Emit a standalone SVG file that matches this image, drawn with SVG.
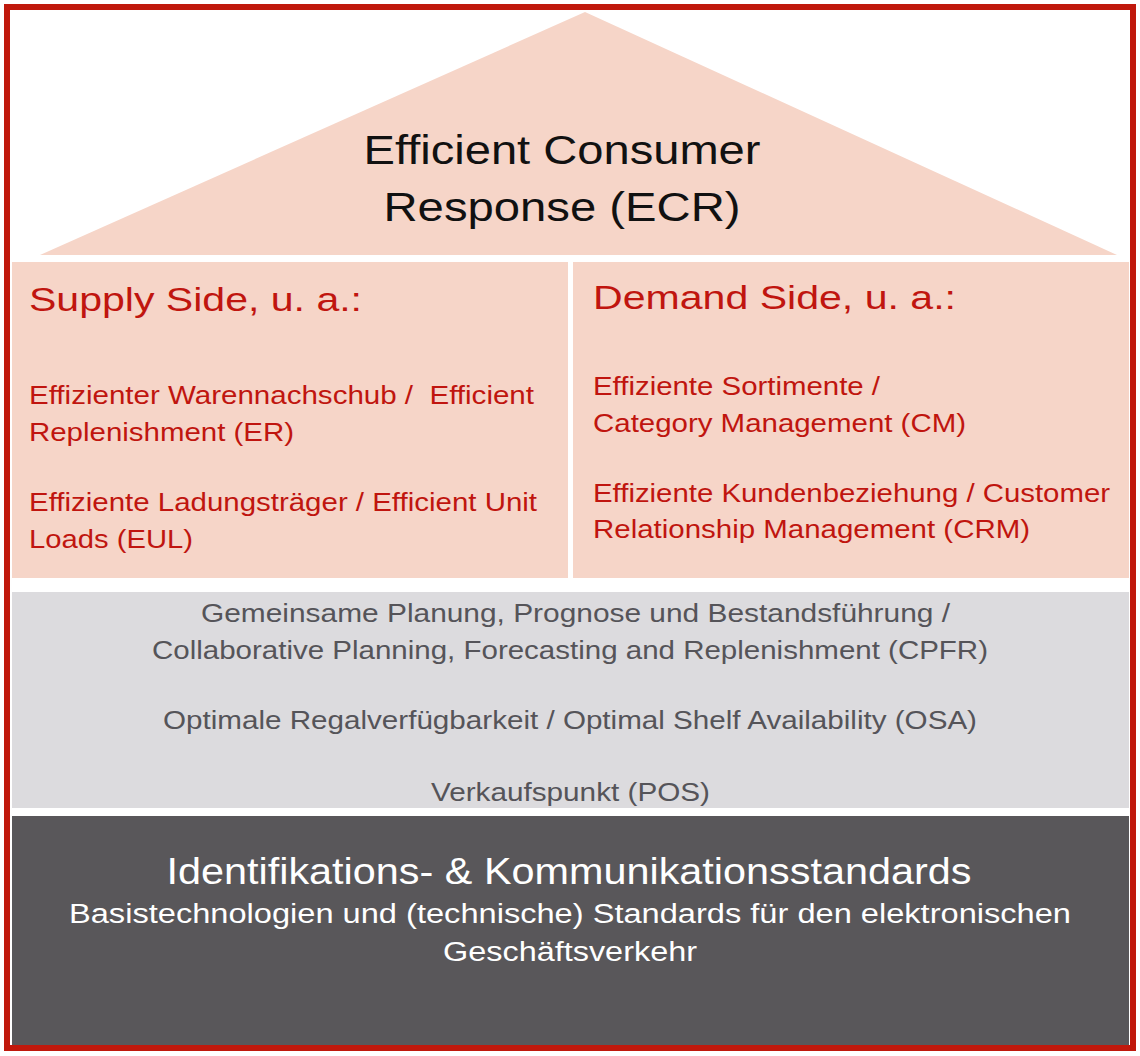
<svg xmlns="http://www.w3.org/2000/svg" width="1140" height="1056" viewBox="0 0 1140 1056">
<style>
text{font-family:"Liberation Sans",Arial,sans-serif}
.pink{fill:#f6d5c8}
.red{fill:#c0150f}
.grey{fill:#555459}
.wht{fill:#ffffff}
.mid{text-anchor:middle}
</style>
<rect x="0" y="0" width="1140" height="1056" fill="#ffffff"/>
<g id="roof">
<polygon class="pink" points="40,255 585,12 1117,255"/>
<text x="562" y="164" font-size="40" class="mid" fill="#111" textLength="397" lengthAdjust="spacingAndGlyphs">Efficient Consumer</text>
<text x="562" y="221" font-size="40" class="mid" fill="#111" textLength="357" lengthAdjust="spacingAndGlyphs">Response (ECR)</text>
</g>
<g id="supply">
<rect class="pink" x="12" y="262" width="556" height="316"/>
<text x="29" y="311" font-size="34" class="red" textLength="333" lengthAdjust="spacingAndGlyphs">Supply Side, u. a.:</text>
<text x="29" y="404" font-size="25" class="red" xml:space="preserve" textLength="505" lengthAdjust="spacingAndGlyphs">Effizienter Warennachschub /  Efficient</text>
<text x="29" y="441" font-size="25" class="red" textLength="265" lengthAdjust="spacingAndGlyphs">Replenishment (ER)</text>
<text x="29" y="511" font-size="25" class="red" textLength="508" lengthAdjust="spacingAndGlyphs">Effiziente Ladungsträger / Efficient Unit</text>
<text x="29" y="548" font-size="25" class="red" textLength="164" lengthAdjust="spacingAndGlyphs">Loads (EUL)</text>
</g>
<g id="demand">
<rect class="pink" x="573" y="262" width="556" height="316"/>
<text x="593" y="309" font-size="34" class="red" textLength="363" lengthAdjust="spacingAndGlyphs">Demand Side, u. a.:</text>
<text x="593" y="395" font-size="25" class="red" textLength="287" lengthAdjust="spacingAndGlyphs">Effiziente Sortimente /</text>
<text x="593" y="432" font-size="25" class="red" textLength="373" lengthAdjust="spacingAndGlyphs">Category Management (CM)</text>
<text x="593" y="502" font-size="25" class="red" textLength="517" lengthAdjust="spacingAndGlyphs">Effiziente Kundenbeziehung / Customer</text>
<text x="593" y="538" font-size="25" class="red" textLength="437" lengthAdjust="spacingAndGlyphs">Relationship Management (CRM)</text>
</g>
<g id="middle">
<rect x="12" y="592" width="1117" height="216" fill="#dcdbde"/>
<text x="201" y="622" font-size="25" class="grey" textLength="749" lengthAdjust="spacingAndGlyphs">Gemeinsame Planung, Prognose und Bestandsführung /</text>
<text x="152" y="659" font-size="25" class="grey" textLength="836" lengthAdjust="spacingAndGlyphs">Collaborative Planning, Forecasting and Replenishment (CPFR)</text>
<text x="163" y="729" font-size="25" class="grey" textLength="814" lengthAdjust="spacingAndGlyphs">Optimale Regalverfügbarkeit / Optimal Shelf Availability (OSA)</text>
<text x="431" y="801" font-size="25" class="grey" textLength="279" lengthAdjust="spacingAndGlyphs">Verkaufspunkt (POS)</text>
</g>
<g id="base">
<rect x="12" y="816" width="1117" height="229" fill="#59575a"/>
<text x="569" y="884" font-size="36" class="wht mid" textLength="805" lengthAdjust="spacingAndGlyphs">Identifikations- &amp; Kommunikationsstandards</text>
<text x="570" y="923" font-size="27" class="wht mid" textLength="1002" lengthAdjust="spacingAndGlyphs">Basistechnologien und (technische) Standards für den elektronischen</text>
<text x="570" y="961" font-size="27" class="wht mid" textLength="254" lengthAdjust="spacingAndGlyphs">Geschäftsverkehr</text>
</g>
<g id="connectors"></g>
<rect id="frame" x="7" y="7" width="1126" height="1041" fill="none" stroke="#c0180c" stroke-width="6"/>
</svg>
